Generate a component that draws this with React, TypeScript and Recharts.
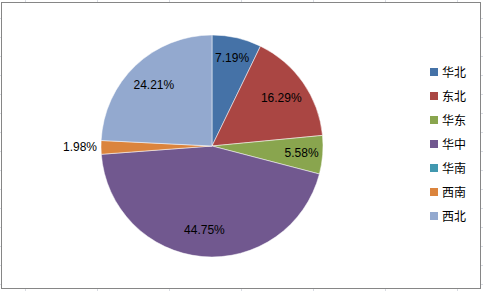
import React from 'react';
import { PieChart, Pie, Cell, Legend } from 'recharts';

const regions = ['华北', '东北', '华东', '华中', '华南', '西南', '西北'];
const shares = [7.19, 16.29, 5.58, 44.75, 0, 1.98, 24.21];
const colors = ['#4572A7', '#AA4643', '#89A54E', '#71588F', '#4198AF', '#DB843D', '#93A9CF'];

const gridCols = [25, 97, 169, 241, 313, 385, 457];
const gridRows = [18, 37, 56, 75, 94, 113, 132, 151, 170, 189, 208, 227, 246, 265, 284];

const data = regions.map((name, i) => ({ name, value: shares[i] }));

const RAD = Math.PI / 180;

const renderLabel = (props: any) => {
  const { cx, cy, midAngle, outerRadius, value } = props;
  if (!value) return null;
  const frac = value / 100;
  let r = outerRadius * 0.76;
  let anchor: 'middle' | 'end' | 'start' = 'middle';
  if (frac < 0.03) {
    r = outerRadius + 4;
    anchor = 'end';
  } else if (frac < 0.1) {
    r = outerRadius * 0.81;
  }
  const x = cx + r * Math.cos(-midAngle * RAD);
  const y = cy + r * Math.sin(-midAngle * RAD);
  return (
    <text
      x={x}
      y={y}
      textAnchor={anchor}
      dominantBaseline="central"
      fill="#000"
      fontSize={12}
      fontFamily="'Liberation Sans', Arial, sans-serif"
    >
      {value.toFixed(2) + '%'}
    </text>
  );
};

const renderLegend = () => (
  <div style={{ fontFamily: "'Noto Sans CJK SC', sans-serif", fontSize: 12, color: '#000' }}>
    {regions.map((name, i) => (
      <div key={name} style={{ display: 'flex', alignItems: 'center', height: 24 }}>
        <span style={{ display: 'inline-block', width: 8, height: 8, background: colors[i], marginRight: 4 }} />
        <span style={{ lineHeight: '24px' }}>{name}</span>
      </div>
    ))}
  </div>
);

export default function App() {
  return (
    <div style={{ position: 'fixed', left: 0, top: 0, width: 483, height: 291, background: '#fff', overflow: 'hidden' }}>
      {gridCols.map((x) => (
        <div key={'c' + x} style={{ position: 'absolute', left: x, top: 0, width: 1, height: 291, background: '#d9dce3' }} />
      ))}
      {gridRows.map((y) => (
        <div key={'r' + y} style={{ position: 'absolute', left: 0, top: y, width: 483, height: 1, background: '#d9dce3' }} />
      ))}
      <div
        style={{
          position: 'absolute',
          left: 1,
          top: 2,
          width: 478,
          height: 285,
          background: '#fff',
          border: '1px solid #868686',
        }}
      />
      <div style={{ position: 'absolute', left: 0, top: 0 }}>
        <PieChart width={483} height={291} margin={{ top: 0, right: 0, bottom: 0, left: 0 }}>
          <Pie
            data={data}
            dataKey="value"
            nameKey="name"
            cx={212}
            cy={146}
            outerRadius={111}
            startAngle={90}
            endAngle={-270}
            stroke="#ffffff"
            strokeWidth={0.5}
            label={renderLabel}
            labelLine={false}
            isAnimationActive={false}
          >
            {data.map((d, i) => (
              <Cell key={d.name} fill={colors[i]} />
            ))}
          </Pie>
          <Legend
            content={renderLegend}
            layout="vertical"
            wrapperStyle={{ position: 'absolute', left: 430, top: 60, width: 50 }}
          />
        </PieChart>
      </div>
    </div>
  );
}
